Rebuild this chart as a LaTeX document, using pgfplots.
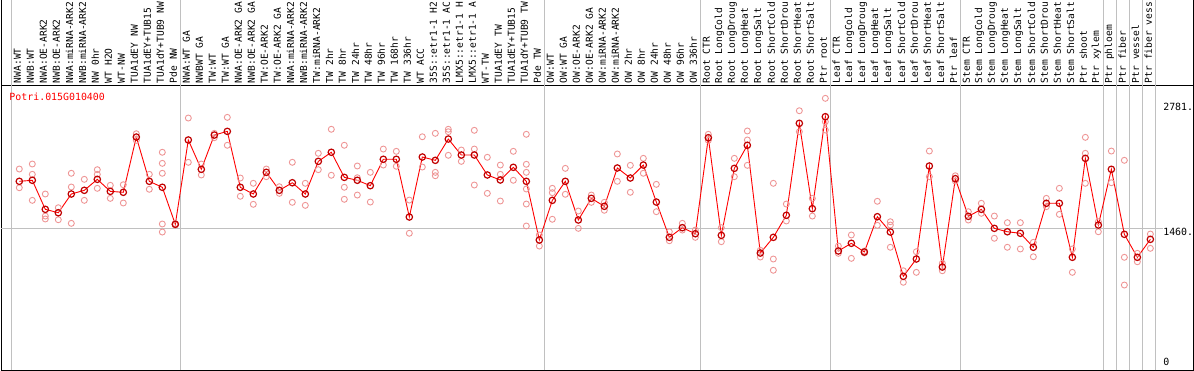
\documentclass[border=0pt]{standalone}
\usepackage{fontspec}
\setmainfont{DejaVu Sans Mono}
\usepackage{pgfplots}
\pgfplotsset{compat=1.18}
\usepackage{pgfplotstable}

\pgfplotstableread{
x y
0 1957
1 1968
2 1661
3 1625
4 1823
5 1862
6 1978
7 1851
8 1841
9 2425
10 1957
11 1894
12 1503
13 2394
14 2084
15 2446
16 2485
17 1894
18 1823
19 2052
20 1862
21 1942
22 1823
23 2168
24 2264
25 1999
26 1968
27 1911
28 2190
29 2190
30 1580
31 2214
32 2179
33 2404
34 2235
35 2235
36 2024
37 1971
38 2105
39 1957
40 1337
41 1756
42 1957
43 1548
44 1777
45 1693
46 2098
47 1992
48 2129
49 1738
50 1365
51 1467
52 1403
53 2418
54 1386
55 2094
56 2338
57 1199
58 1365
59 1598
60 2570
61 1668
62 2640
63 1221
64 1302
65 1210
66 1583
67 1421
68 953
69 1136
70 2119
71 1051
72 1985
73 1587
74 1661
75 1460
76 1424
77 1408
78 1260
79 1725
80 1725
81 1154
82 2200
83 1495
84 2084
85 1397
86 1154
87 1344
}\means

\pgfplotstableread{
x y
0 2087
0 1889
1 2140
1 2031
1 1756
2 1823
2 1590
2 1559
3 1678
3 1551
4 2042
4 1897
4 1513
5 1978
5 1756
6 2080
6 2031
6 1883
7 1915
7 1777
8 1921
8 1728
9 2460
9 2390
10 2031
10 1873
11 2264
11 2147
11 2042
11 1506
11 1421
12 1495
12 1510
13 2626
13 2158
14 2140
14 2024
15 2464
15 2418
16 2633
16 2338
17 1992
17 1799
18 1936
18 1714
19 2087
19 2006
20 1900
20 1830
21 2158
21 1735
22 1936
22 1703
23 2253
23 2080
24 2507
24 2021
25 2338
25 1894
25 1767
26 2119
26 1995
26 1812
27 2052
27 1738
28 2298
28 2129
29 2274
29 2116
30 1759
30 1408
31 2428
31 2108
32 2464
32 2052
32 2016
33 2507
33 2481
33 2232
34 2288
34 2168
35 2496
35 2298
35 1918
36 2211
36 1830
37 2129
37 2031
37 1749
38 2274
38 1968
39 2454
39 2137
39 2052
39 1876
39 1717
39 1485
40 1390
40 1273
41 1883
41 1837
41 1556
42 2094
42 1820
43 1643
43 1460
44 1812
44 1735
45 1735
45 1651
46 2246
46 1957
47 2126
47 1841
48 2200
48 2042
49 1925
49 1636
50 1424
50 1329
51 1513
51 1442
52 1442
52 1365
53 2454
53 2390
54 1467
54 1319
55 2200
55 2006
56 2489
56 2394
56 2126
57 1228
57 1157
58 1936
58 1136
58 1017
59 1717
59 1538
60 2703
60 2481
61 1777
61 1590
62 2834
62 2587
62 2499
63 1273
63 1196
64 1390
64 1143
65 1220
65 1200
66 1746
66 1492
67 1530
67 1495
67 1260
68 1012
68 890
69 1213
69 995
70 2277
70 2006
71 1091
71 1012
72 2016
72 1960
73 1636
73 1548
74 1725
74 1619
75 1590
75 1355
76 1520
76 1260
77 1520
77 1242
78 1312
78 1160
79 1777
79 1689
80 1883
80 1608
81 1242
81 995
82 2422
82 2253
82 1936
83 1530
83 1424
84 2277
84 1942
85 2179
85 1154
85 861
86 1196
86 1107
87 1400
87 1249
}\reps

\definecolor{repc}{RGB}{238,150,150}
\definecolor{gridc}{RGB}{192,192,192}

\begin{document}
\begin{tikzpicture}
\begin{axis}[
  at={(0,0)}, anchor=south west,
  scale only axis, width=1192pt, height=285pt,
  xmin=-1.408, xmax=90.285, ymin=-37, ymax=2975,
  axis line style={black, line width=0.9pt},
  xtick={-0.15,0.85,...,86.9},
  xticklabels={NWA:WT,NWB:WT,NWA:OE-ARK2,NWB:OE-ARK2,NWA:miRNA-ARK2,NWB:miRNA-ARK2,NW 0hr,WT H2O,WT-NW,TUA1dEY NW,TUA1dEY+TUB15,TUA1dY+TUB9 NW,Pde NW,
    NWA:WT GA,NWBWT GA,TW:WT,TW:WT GA,NWA:OE-ARK2 GA,NWB:OE-ARK2 GA,TW:OE-ARK2,TW:OE-ARK2 GA,NWA:miRNA-ARK2,NWB:miRNA-ARK2,TW:miRNA-ARK2,TW 2hr,TW 8hr,TW 24hr,TW 48hr,TW 96hr,TW 168hr,TW 336hr,WT ACC,35S::etr1-1 H2,35S::etr1-1 AC,LMX5::etr1-1 H,LMX5::etr1-1 A,WT-TW,TUA1dEY TW,TUA1dEY+TUB15,TUA1dY+TUB9 TW,Pde TW,
    OW:WT,OW:WT GA,OW:OE-ARK2,OW:OE-ARK2 GA,OW:miRNA-ARK2,OW:miRNA-ARK2,OW 2hr,OW 8hr,OW 24hr,OW 48hr,OW 96hr,OW 336hr,
    Root CTR,Root LongCold,Root LongDroug,Root LongHeat,Root LongSalt,Root ShortCold,Root ShortDrou,Root ShortHeat,Root ShortSalt,Ptr root,
    Leaf CTR,Leaf LongCold,Leaf LongDroug,Leaf LongHeat,Leaf LongSalt,Leaf ShortCold,Leaf ShortDrou,Leaf ShortHeat,Leaf ShortSalt,Ptr leaf,
    Stem CTR,Stem LongCold,Stem LongDroug,Stem LongHeat,Stem LongSalt,Stem ShortCold,Stem ShortDrou,Stem ShortHeat,Stem ShortSalt,Ptr shoot,Ptr xylem,
    Ptr phloem,Ptr fiber,Ptr vessel,Ptr fiber vess},
  xticklabel pos=upper,
  xticklabel style={rotate=90, anchor=west, font=\fontsize{9.6}{10}\selectfont, inner sep=0pt},
  xticklabel shift=1.8pt,
  major tick length=0pt,
  ytick=\empty,
  clip=false,
]
% background rules
\foreach \g in {-0.64,12.36,40.36,52.36,62.36,72.40,83.40,84.36,85.36,86.36,87.36}{
  \edef\tmp{\noexpand\draw[gridc, line width=0.9pt] (axis cs:\g,-37) -- ({axis cs:\g,0}|-{rel axis cs:0,1.3});}
  \tmp
}
\draw[gridc, line width=0.9pt] (axis cs:-1.408,1460) -- (axis cs:87.98,1460);
\draw[black, line width=0.9pt] (rel axis cs:0,1) -- (rel axis cs:0,1.3);
\draw[black, line width=0.9pt] (rel axis cs:1,1) -- (rel axis cs:1,1.3);

\addplot[only marks, mark=o, mark size=3pt, draw=repc, mark options={line width=0.9pt}] table[x=x,y=y] {\reps};
\addplot[red, line width=0.9pt, mark=o, mark size=3.2pt, mark options={draw=red!75!black, line width=1.2pt}] table[x=x,y=y] {\means};

\node[anchor=west, text=red, inner sep=0pt, font=\fontsize{9.9}{10}\selectfont] at (rel axis cs:0.00696,0.958) {Potri.015G010400};
\node[anchor=north west, inner sep=0pt, font=\fontsize{9.9}{10}\selectfont] at (axis cs:87.98,2781) {2781.};
\node[anchor=north west, inner sep=0pt, font=\fontsize{9.9}{10}\selectfont] at (axis cs:87.98,1460) {1460.};
\node[anchor=north west, inner sep=0pt, font=\fontsize{9.9}{10}\selectfont] at (axis cs:87.98,90) {0};
\end{axis}
\pgfresetboundingbox
\path[use as bounding box] (-1pt,-0.5pt) rectangle (1193pt,370pt);
\end{tikzpicture}
\end{document}
